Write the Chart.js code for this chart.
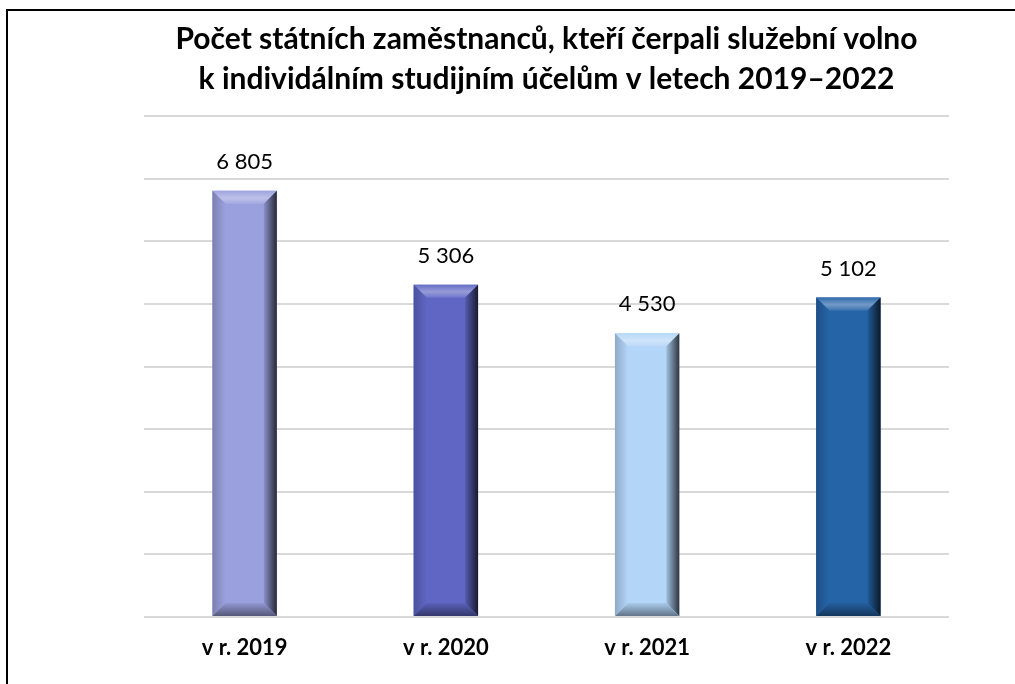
<!DOCTYPE html>
<html>
<head>
<meta charset="utf-8">
<script src="https://cdn.jsdelivr.net/npm/chart.js@4.4.1/dist/chart.umd.min.js"></script>
<style>
    body { margin: 0; background: #fff; }
    #wrap { position: relative; width: 1015px; height: 684px; }
    #frame { position: absolute; left: 6px; top: 9px; right: 0; bottom: 0; border-left: 2px solid #000; border-top: 2px solid #000; }
    canvas { position: absolute; left: 0; top: 0; }
</style>
</head>
<body>
<div id="wrap">
    <div id="frame"></div>
    <canvas id="myChart" width="1015" height="684"></canvas>
</div>
<script>
const years = ["v r. 2019", "v r. 2020", "v r. 2021", "v r. 2022"];
const employees = [6805, 5306, 4530, 5102];
const barColors = ["#9aa0dd", "#5f66c3", "#b3d5f8", "#2664a8"];
const titleLines = [
    "Počet státních zaměstnanců, kteří čerpali služební volno",
    "k individálním studijním účelům v letech 2019–2022"
];

const fontName = "Lato, 'Open Sans', sans-serif";

// thousands separated by a space, like "6 805"
function fmt(n) {
    return String(n).replace(/\B(?=(\d{3})+(?!\d))/g, " ");
}

function shade(hex, amt) {
    let r = parseInt(hex.slice(1, 3), 16);
    let g = parseInt(hex.slice(3, 5), 16);
    let b = parseInt(hex.slice(5, 7), 16);
    if (amt > 0) {
        r = r + (255 - r) * amt; g = g + (255 - g) * amt; b = b + (255 - b) * amt;
    } else {
        r = r * (1 + amt); g = g * (1 + amt); b = b * (1 + amt);
    }
    return `rgb(${Math.round(r)}, ${Math.round(g)}, ${Math.round(b)})`;
}

// bevel look + value labels on top of each bar
const bevelPlugin = {
    id: "bevel",
    afterDatasetsDraw(chart) {
        const ctx = chart.ctx;
        const meta = chart.getDatasetMeta(0);
        meta.data.forEach((bar, i) => {
            const col = barColors[i];
            const l = bar.x - bar.width / 2;
            const r = bar.x + bar.width / 2;
            const t = bar.y;
            const b = bar.base;
            const s = 13;
            ctx.save();
            // top
            ctx.beginPath();
            ctx.moveTo(l, t); ctx.lineTo(r, t); ctx.lineTo(r - s, t + s); ctx.lineTo(l + s, t + s); ctx.closePath();
            const gt = ctx.createLinearGradient(0, t, 0, t + s);
            gt.addColorStop(0, shade(col, 0.05));
            gt.addColorStop(0.55, shade(col, 0.35));
            gt.addColorStop(1, shade(col, 0.1));
            ctx.fillStyle = gt; ctx.fill();
            // right
            ctx.beginPath();
            ctx.moveTo(r, t); ctx.lineTo(r, b); ctx.lineTo(r - s, b - s); ctx.lineTo(r - s, t + s); ctx.closePath();
            const gr = ctx.createLinearGradient(r - s, 0, r, 0);
            gr.addColorStop(0, shade(col, -0.1));
            gr.addColorStop(1, shade(col, -0.75));
            ctx.fillStyle = gr; ctx.fill();
            // bottom
            ctx.beginPath();
            ctx.moveTo(l, b); ctx.lineTo(r, b); ctx.lineTo(r - s, b - s); ctx.lineTo(l + s, b - s); ctx.closePath();
            const gb = ctx.createLinearGradient(0, b - s, 0, b);
            gb.addColorStop(0, shade(col, -0.05));
            gb.addColorStop(1, shade(col, -0.45));
            ctx.fillStyle = gb; ctx.fill();
            // left
            ctx.beginPath();
            ctx.moveTo(l, t); ctx.lineTo(l, b); ctx.lineTo(l + s, b - s); ctx.lineTo(l + s, t + s); ctx.closePath();
            const gl = ctx.createLinearGradient(l, 0, l + s, 0);
            gl.addColorStop(0, shade(col, -0.2));
            gl.addColorStop(1, shade(col, 0));
            ctx.fillStyle = gl; ctx.fill();
            ctx.restore();

            ctx.save();
            ctx.fillStyle = "#000";
            ctx.font = "22px " + fontName;
            ctx.textAlign = "center";
            ctx.textBaseline = "middle";
            ctx.fillText(fmt(employees[i]), bar.x, t - 29);
            ctx.restore();
        });
    }
};

new Chart("myChart", {
    type: "bar",
    data: {
        labels: years,
        datasets: [{
            data: employees,
            backgroundColor: barColors,
            borderWidth: 0,
            categoryPercentage: 1,
            barPercentage: 0.32
        }]
    },
    options: {
        responsive: false,
        animation: false,
        layout: {
            padding: { left: 144, right: 66, top: 19, bottom: 17 }
        },
        plugins: {
            legend: { display: false },
            tooltip: { enabled: false },
            title: {
                display: true,
                text: titleLines,
                color: "#000",
                font: { family: fontName, size: 30, weight: "bold", lineHeight: 1.35 },
                padding: { top: 0, bottom: 16 }
            }
        },
        scales: {
            x: {
                grid: { display: false, drawTicks: false },
                border: { display: false },
                ticks: {
                    color: "#000",
                    font: { family: fontName, size: 22, weight: "bold" },
                    padding: 18
                },
                afterFit: (scale) => { scale.height = 50; }
            },
            y: {
                min: 0,
                max: 8000,
                ticks: { display: false, stepSize: 1000 },
                border: { display: false },
                grid: { color: "#d9d9d9", lineWidth: 2, drawTicks: false }
            }
        }
    },
    plugins: [bevelPlugin]
});
</script>
</body>
</html>
